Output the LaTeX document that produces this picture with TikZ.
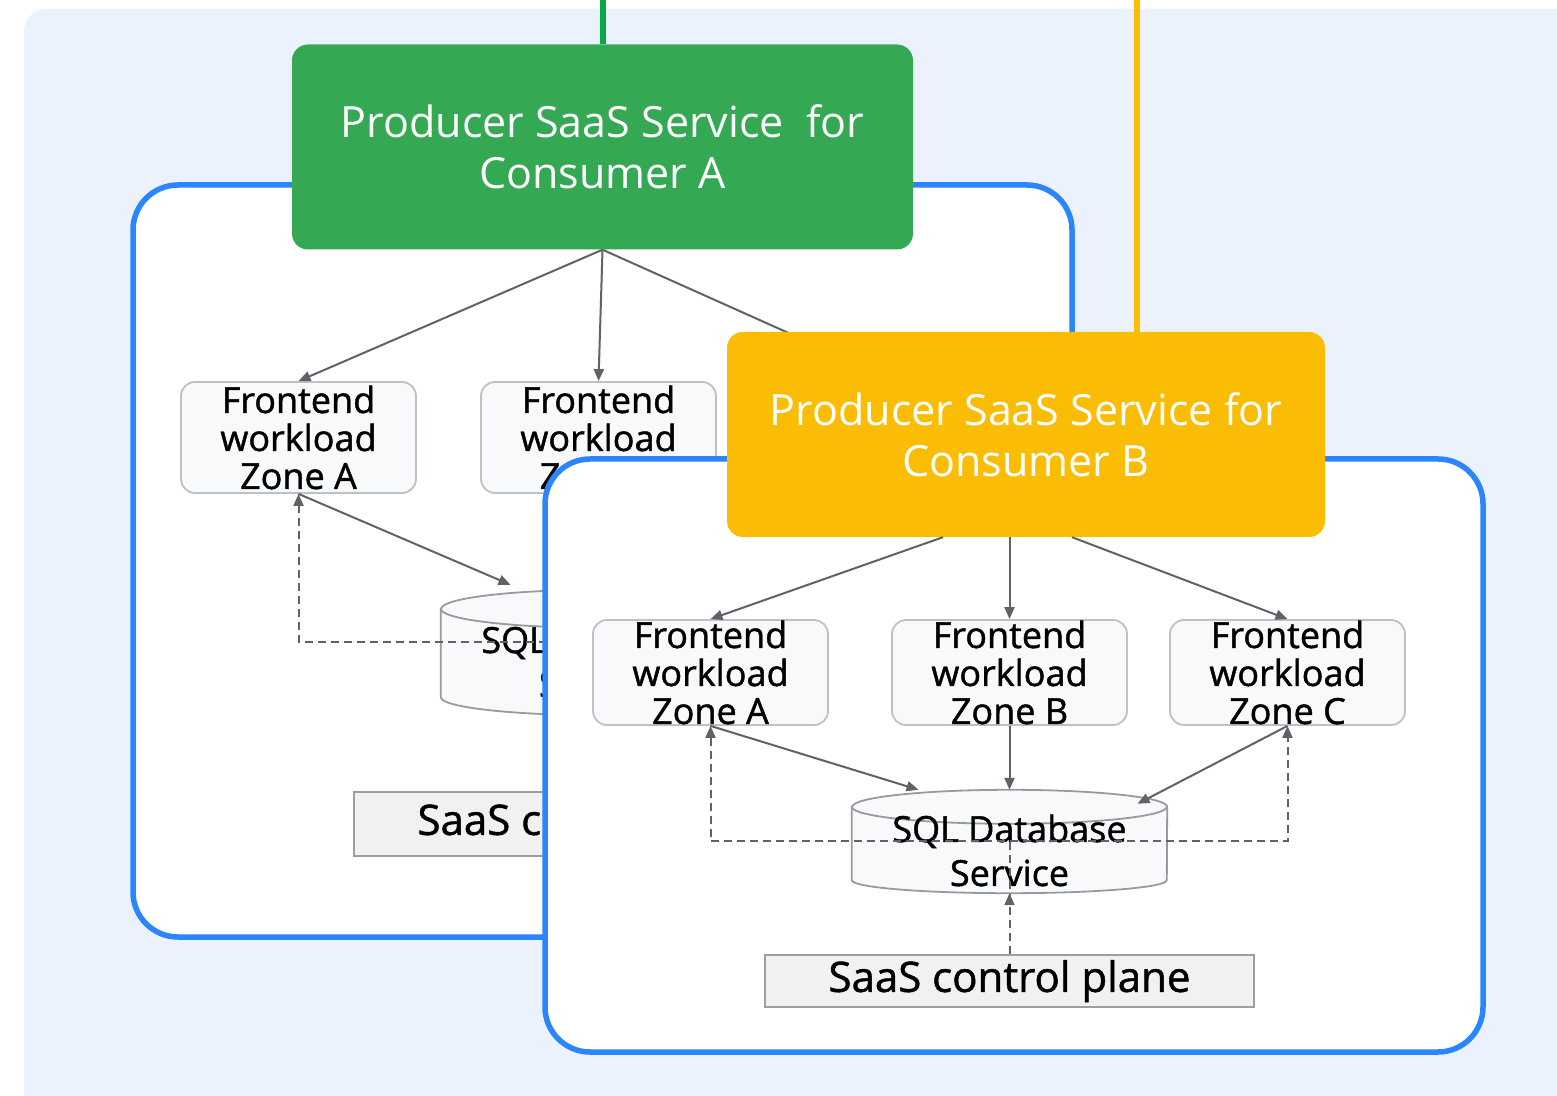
\documentclass[tikz,border=0pt]{standalone}
\usepackage{fontspec}
\setmainfont{Open Sans}
\newfontfamily\medfont{Open Sans}[FakeBold=1.2]
\usepackage{xcolor}
\usepackage{tikz}
\usetikzlibrary{arrows.meta}
\definecolor{bg_blue}{HTML}{ECF2FD}
\definecolor{edge_blue}{HTML}{2A85FF}
\definecolor{prod_green}{HTML}{34A853}
\definecolor{line_green}{HTML}{0BA84A}
\definecolor{prod_yellow}{HTML}{FBBC04}
\definecolor{zone_fill}{HTML}{F8F9FA}
\definecolor{zone_line}{HTML}{BDC1C6}
\definecolor{cp_fill}{HTML}{F1F1F1}
\definecolor{cp_line}{HTML}{9E9E9E}
\definecolor{arrow_gray}{HTML}{5F6368}
\tikzset{
  >={Triangle[length=12pt,width=10pt]},
  producer/.style={rounded corners=16pt, minimum width=#1, minimum height=205pt,
    align=center, text=white, inner sep=0pt, font=\fontsize{43}{51}\selectfont},
  zone/.style={draw=zone_line, fill=zone_fill, line width=1.8pt, rounded corners=14pt,
    minimum width=235pt, minimum height=#1, align=center, inner sep=0pt,
    font=\medfont\fontsize{36}{38}\selectfont},
  dbbox/.style={minimum width=315pt, minimum height=#1, inner sep=0pt},
  cyl/.style={draw=zone_line!80!black, fill=zone_fill, line width=1.8pt},
  dbtext/.style={align=center, inner sep=0pt, yshift=-9pt, font=\medfont\fontsize{36}{44}\selectfont},
  ctrl/.style={draw=cp_line, fill=cp_fill, line width=1.8pt, minimum width=489pt,
    minimum height=#1, inner sep=0pt, font=\medfont\fontsize{42}{44}\selectfont},
  flow/.style={->, arrow_gray, line width=2pt},
  flowdash/.style={->, arrow_gray, line width=2pt, dash pattern=on 8pt off 5pt},
  account/.style={draw=edge_blue, fill=white, line width=5.5pt, rounded corners=45pt}
}

\begin{document}
\begin{tikzpicture}[x=1pt, y=1pt]
      \useasboundingbox (0,0) rectangle (1557,1095);
      \fill[bg_blue, rounded corners=22pt] (24,1086) rectangle (1620,-40);

      % consumer A
      \coordinate (topA) at (602.5,1095);
      \draw[account] (133,910) rectangle (1072,158);
      \node[producer=621pt, fill=prod_green] (prodA) at (602.5,948) {Producer SaaS Service \ for\\Consumer A};
      \draw[line_green, line width=6pt] (topA) -- (prodA.north);

      \node[zone=111pt] (zoneAa) at (298.5,657.5) {Frontend\\workload\\Zone A};
      \node[zone=111pt] (zoneAb) at (598.5,657.5) {Frontend\\workload\\Zone B};
      \coordinate (zoneAc) at (898,713);

      \node[dbbox=125pt] (dbA) at (598.5,442.5) {};
      \draw[cyl] ([yshift=-19pt]dbA.north west) -- ([yshift=18pt]dbA.south west)
        arc[start angle=180, end angle=360, x radius=157.5pt, y radius=18pt]
        -- ([yshift=-19pt]dbA.north east)
        arc[start angle=0, end angle=180, x radius=157.5pt, y radius=19pt] -- cycle;
      \draw[cyl, fill=none] ([yshift=-19pt]dbA.north west)
        arc[start angle=180, end angle=360, x radius=157.5pt, y radius=19pt];
      \node[dbtext] (dbAtext) at (dbA) {SQL Database\\Service};

      \node[ctrl=64pt] (ctrlA) at (598.5,271) {SaaS control plane};

      \draw[flow] (prodA.south) -- (zoneAa.north);
      \draw[flow] (prodA.south) -- (zoneAb.north);
      \draw[flow] (prodA.south) -- (zoneAc);
      \draw[flow] (zoneAa.south) -- ([xshift=-88pt,yshift=5pt]dbA.north);
      \draw[flowdash] ([yshift=10pt]dbA.center) -| (zoneAa.south);

      % consumer B
      \coordinate (topB) at (1137,1095);
      \draw[prod_yellow, line width=6pt] (topB) -- (1137,763);
      \draw[account] (545,636) rectangle (1483,43);
      \node[producer=598pt, fill=prod_yellow] (prodB) at (1026,660.5) {Producer SaaS Service for\\Consumer B};

      \node[zone=105pt] (zoneBa) at (710.5,422.5) {Frontend\\workload\\Zone A};
      \node[zone=105pt] (zoneBb) at (1009.5,422.5) {Frontend\\workload\\Zone B};
      \node[zone=105pt] (zoneBc) at (1287.5,422.5) {Frontend\\workload\\Zone C};

      \node[dbbox=103pt] (dbB) at (1009.5,253.5) {};
      \draw[cyl] ([yshift=-17pt]dbB.north west) -- ([yshift=13pt]dbB.south west)
        arc[start angle=180, end angle=360, x radius=157.5pt, y radius=13pt]
        -- ([yshift=-17pt]dbB.north east)
        arc[start angle=0, end angle=180, x radius=157.5pt, y radius=17pt] -- cycle;
      \draw[cyl, fill=none] ([yshift=-17pt]dbB.north west)
        arc[start angle=180, end angle=360, x radius=157.5pt, y radius=17pt];
      \node[dbtext] (dbBtext) at (dbB) {SQL Database\\Service};

      \node[ctrl=52pt] (ctrlB) at (1009.5,114) {SaaS control plane};

      \draw[flow] ([xshift=-83pt]prodB.south) -- (zoneBa.north);
      \draw[flow] (prodB.south -| zoneBb.north) -- (zoneBb.north);
      \draw[flow] ([xshift=46pt]prodB.south) -- (zoneBc.north);
      \draw[flow] (zoneBa.south) -- ([xshift=-91pt]dbB.north);
      \draw[flow] (zoneBb.south) -- (dbB.north);
      \draw[flow] (zoneBc.south) -- ([xshift=128pt,yshift=-14pt]dbB.north);
      \draw[flowdash] (ctrlB.north) -- (dbB.south);
      \draw[flowdash] (ctrlB.north) -- (dbB.center) -| (zoneBa.south);
      \draw[flowdash] (dbB.center) -| (zoneBc.south);
    \end{tikzpicture}
\end{document}
